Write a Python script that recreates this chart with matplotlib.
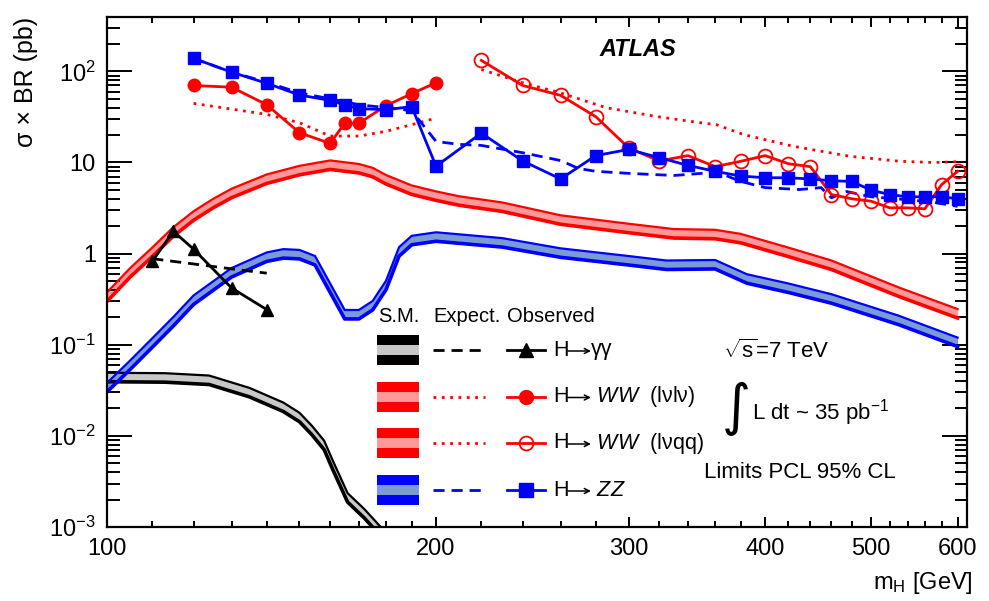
import matplotlib
matplotlib.use("Agg")
import matplotlib.pyplot as plt
from matplotlib.patches import Rectangle
from matplotlib.lines import Line2D
from matplotlib.ticker import NullFormatter

plt.rcParams['font.family'] = ['Liberation Sans', 'DejaVu Sans']
plt.rcParams['mathtext.fontset'] = 'custom'
plt.rcParams['mathtext.rm'] = 'Liberation Sans'
plt.rcParams['mathtext.it'] = 'Liberation Sans:italic'
plt.rcParams['mathtext.bf'] = 'Liberation Sans:bold'

# --- SM predictions (sigma x BR, pb), central values; band = x/÷ SM_BAND
sm_ww_mass = [100, 105, 110, 115, 120, 125, 130, 140, 150, 160, 170, 175, 180, 190,
              200, 210, 230, 260, 300, 330, 360, 380, 420, 460, 530, 600]
sm_ww = [0.335, 0.62, 1.04, 1.74, 2.6, 3.55, 4.6, 6.6, 8.2, 9.4, 8.6, 7.8, 6.5, 5.0,
         4.3, 3.8, 3.25, 2.35, 1.9, 1.66, 1.63, 1.47, 1.04, 0.75, 0.38, 0.22]

sm_zz_mass = [100, 105, 110, 115, 120, 130, 140, 145, 150, 155, 160, 165, 170, 175,
              180, 185, 190, 200, 230, 260, 300, 325, 360, 385, 420, 460, 530, 600]
sm_zz = [0.034, 0.06, 0.105, 0.18, 0.31, 0.62, 0.92, 1.0, 0.98, 0.84, 0.42, 0.215, 0.215, 0.27,
         0.45, 1.05, 1.4, 1.53, 1.32, 1.02, 0.84, 0.75, 0.76, 0.53, 0.42, 0.32, 0.186, 0.107]

sm_gg_mass = [100, 113, 124, 135, 145, 150, 154, 158, 161, 166, 172, 177, 185]
sm_gg = [0.044, 0.0435, 0.041, 0.030, 0.0207, 0.016, 0.0115, 0.0079, 0.0047, 0.0021,
         0.0014, 0.00096, 0.00055]

SM_BAND = 1.12

# --- H -> gamma gamma
gg_mass = [110, 115, 120, 130, 140]
gg_obs = [0.82, 1.76, 1.12, 0.42, 0.243]
gg_exp_mass = [110, 120, 130, 140]
gg_exp = [0.88, 0.77, 0.68, 0.61]

# --- H -> WW (lvlv)
lvlv_mass = [120, 130, 140, 150, 160, 165, 170, 180, 190, 200]
lvlv_obs = [70, 67, 43, 21.2, 16.2, 27, 27, 42, 57, 75]
lvlv_exp_mass = [120, 140, 150, 160, 170, 180, 190, 200]
lvlv_exp = [44.5, 33.7, 27.3, 19.5, 19.5, 22, 26, 30.7]

# --- H -> WW (lvqq)
lvqq_mass = [220, 240, 260, 280, 300, 320, 340, 360, 380, 400, 420, 440, 460, 480,
             500, 520, 540, 560, 580, 600]
lvqq_obs = [132, 70, 54.5, 31.8, 14.5, 10.4, 11.9, 9.0, 10.3, 11.9, 9.7, 9.0, 4.45, 4.0,
            3.76, 3.18, 3.18, 3.1, 5.7, 8.0]
lvqq_exp_mass = [220, 240, 260, 286, 318, 349, 361, 382, 424, 478, 532, 570, 600]
lvqq_exp = [105, 75, 58, 40, 32, 27.3, 26, 20.3, 15.1, 11.7, 10.3, 10.0, 10.2]

# --- H -> ZZ
zz_mass = [120, 130, 140, 150, 160, 165, 170, 180, 190, 200, 220, 240, 260, 280, 300,
           320, 340, 360, 380, 400, 420, 440, 460, 480, 500, 520, 540, 560, 580, 600]
zz_obs = [139, 98, 74, 55, 48, 43, 39, 38, 41, 9.1, 21, 10.4, 6.6, 11.9, 13.9,
          11.3, 9.3, 8.0, 7.1, 6.8, 6.8, 6.6, 6.3, 6.2, 4.97, 4.45, 4.2, 4.2, 4.2, 4.0]
zz_exp_mass = [120, 130, 140, 150, 160, 170, 180, 190, 200, 210, 220, 240, 260, 270, 280,
               300, 330, 350, 360, 380, 400, 430, 450, 460, 475, 500, 540, 570, 600]
zz_exp = [139, 98, 76, 58, 50, 43, 40, 37, 17, 15.8, 15.4, 12.8, 10.5, 8.6, 8.0,
          7.6, 7.2, 7.6, 8.0, 6.2, 5.3, 5.05, 5.3, 4.1, 4.8, 4.2, 3.9, 3.66, 3.3]

x_major = [100, 200, 300, 400, 500, 600]
x_minor = [110, 120, 130, 140, 150, 160, 170, 180, 190, 220, 240, 260, 280, 320, 340,
           360, 380, 420, 440, 460, 480, 520, 540, 560, 580]
y_major = [1e-3, 1e-2, 1e-1, 1, 10, 100]
y_labels = ['10$^{-3}$', '10$^{-2}$', '10$^{-1}$', '1', '10', '10$^{2}$']

RED, LRED = '#ff0000', '#ff9999'
BLUE, LBLUE = '#0000ff', '#7b9bd4'
BLACK, GREY = '#000000', '#c8c8c8'

fig = plt.figure(figsize=(9.89, 6.01), dpi=100)
ax = fig.add_axes([107 / 989, 74 / 601, 860 / 989, 510.5 / 601])
ax.set_xscale('log')
ax.set_yscale('log')


def sm_band(m, c, dark, light):
    lo = [v / SM_BAND for v in c]
    hi = [v * SM_BAND for v in c]
    ax.fill_between(m, lo, hi, color=light, lw=0, zorder=1)
    ax.plot(m, hi, color=dark, lw=1.6, zorder=2)
    ax.plot(m, lo, color=dark, lw=2.6, zorder=2)


sm_band(sm_gg_mass, sm_gg, BLACK, GREY)
sm_band(sm_ww_mass, sm_ww, RED, LRED)
sm_band(sm_zz_mass, sm_zz, BLUE, LBLUE)

dash = (0, (4, 2.5))
dots = (0, (1, 2))
ax.plot(gg_exp_mass, gg_exp, color=BLACK, lw=2, ls=dash, zorder=3)
ax.plot(lvlv_exp_mass, lvlv_exp, color=RED, lw=2, ls=dots, zorder=3)
ax.plot(lvqq_exp_mass, lvqq_exp, color=RED, lw=2, ls=dots, zorder=3)
ax.plot(zz_exp_mass, zz_exp, color=BLUE, lw=2, ls=dash, zorder=3)

ax.plot(gg_mass, gg_obs, color=BLACK, lw=2, marker='^', ms=9, zorder=4)
ax.plot(lvlv_mass, lvlv_obs, color=RED, lw=2, marker='o', ms=9, zorder=4)
ax.plot(lvqq_mass, lvqq_obs, color=RED, lw=2, marker='o', ms=10, mfc='none', mew=1.3, zorder=4)
ax.plot(zz_mass, zz_obs, color=BLUE, lw=2, marker='s', ms=9, zorder=4)

ax.set_xlim(100, 612)
ax.set_ylim(1e-3, 400)
ax.set_xticks(x_major)
ax.set_xticklabels([str(v) for v in x_major])
ax.set_xticks(x_minor, minor=True)
ax.xaxis.set_minor_formatter(NullFormatter())
ax.set_yticks(y_major)
ax.set_yticklabels(y_labels)
ax.tick_params(axis='both', which='both', direction='in', top=True, right=True,
               width=1.4, labelsize=17, pad=8)
ax.tick_params(axis='x', which='major', length=7)
ax.tick_params(axis='x', which='minor', length=4)
ax.tick_params(axis='y', which='major', length=18)
ax.tick_params(axis='y', which='minor', length=9)
for s in ax.spines.values():
    s.set_linewidth(1.6)

# overlay in pixel coordinates for texts and the hand-made legend
lax = fig.add_axes([0, 0, 1, 1])
lax.set_xlim(0, 989)
lax.set_ylim(601, 0)
lax.axis('off')

lax.text(26, 17, 'σ × BR (pb)', rotation=90, ha='center', va='top', fontsize=18)
lax.text(973, 583, r'm$_\mathrm{H}$ [GeV]', ha='right', va='center', fontsize=17)
lax.text(638, 50, 'ATLAS', ha='center', va='center', fontsize=17,
         fontweight='bold', fontstyle='italic')
lax.text(723, 351, r'$\sqrt{\mathrm{s}}$=7 TeV', ha='left', va='center', fontsize=16)
lax.text(736, 409, '∫', ha='center', va='center', fontsize=40, family='DejaVu Sans')
lax.text(752, 413, 'L dt ~ 35 pb$^{-1}$', ha='left', va='center', fontsize=16)
lax.text(704, 472, 'Limits PCL 95% CL', ha='left', va='center', fontsize=16)

# legend
lax.text(378, 317, 'S.M.', ha='left', va='center', fontsize=14.5)
lax.text(433, 317, 'Expect.', ha='left', va='center', fontsize=14.5)
lax.text(507, 317, 'Observed', ha='left', va='center', fontsize=14.5)

rows = [
    (350, BLACK, GREY, dash, dict(marker='^', mfc=BLACK), 'γγ'),
    (396.5, RED, LRED, dots, dict(marker='o', mfc=RED), r' $\mathit{WW}$  (lνlν)'),
    (443, RED, LRED, dots, dict(marker='o', mfc='none', mew=1.3), r' $\mathit{WW}$  (lνqq)'),
    (490, BLUE, LBLUE, dash, dict(marker='s', mfc=BLUE), r' $\mathit{ZZ}$'),
]
for yc, dark, light, ls, mk, rhs in rows:
    lax.add_patch(Rectangle((377, yc - 15), 42, 10, color=dark, lw=0))
    lax.add_patch(Rectangle((377, yc - 5), 42, 10, color=light, lw=0))
    lax.add_patch(Rectangle((377, yc + 5), 42, 10, color=dark, lw=0))
    lax.add_line(Line2D([433, 485], [yc, yc], color=dark, lw=2, ls=ls))
    lax.add_line(Line2D([507, 545], [yc, yc], color=dark, lw=2))
    lax.add_line(Line2D([526], [yc], color=dark, ms=10, mec=dark, ls='none', **mk))
    lax.text(553, yc, 'H', ha='left', va='center', fontsize=15.5)
    # long thin arrow, as in the ROOT original
    lax.annotate('', xy=(591, yc + 1), xytext=(568, yc + 1),
                 arrowprops=dict(arrowstyle='->', lw=1.1, color='black',
                                 shrinkA=0, shrinkB=0, mutation_scale=9))
    lax.text(591, yc, rhs, ha='left', va='center', fontsize=15.5)

fig.savefig('out.png', dpi=100)
